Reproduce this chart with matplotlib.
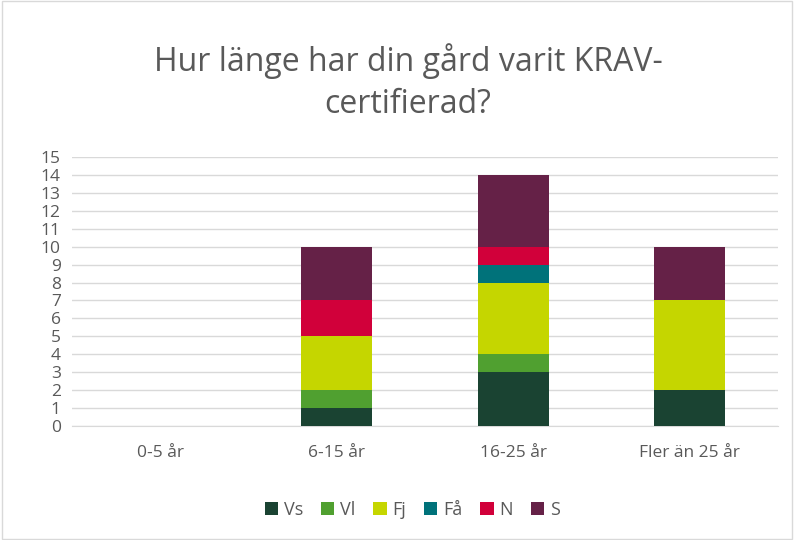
import numpy as np
import matplotlib
matplotlib.use('Agg')
import matplotlib.pyplot as plt
from matplotlib.patches import Rectangle

categories = ['0-5 år', '6-15 år', '16-25 år', 'Fler än 25 år']
series = ['Vs', 'Vl', 'Fj', 'Få', 'N', 'S']
vs = [0, 1, 3, 2]
vl = [0, 1, 1, 0]
fj = [0, 3, 4, 5]
fa = [0, 0, 1, 0]
n = [0, 2, 1, 0]
s = [0, 3, 4, 3]
colors = ['#1A4332', '#50A030', '#C5D600', '#00727A', '#D1003A', '#652147']

plt.rcParams['font.family'] = ['Open Sans', 'DejaVu Sans']
fig = plt.figure(figsize=(7.94, 5.40), dpi=100)
ax = fig.add_axes([72 / 794, 1 - 426 / 540, 706 / 794, 269 / 540])

x = np.arange(len(categories))
bottom = np.zeros(len(categories))
for name, vals, c in zip(series, [vs, vl, fj, fa, n, s], colors):
    ax.bar(x, vals, 0.4, bottom=bottom, color=c, label=name, zorder=3)
    bottom += np.array(vals)

ax.set_xlim(-0.5, 3.5)
ax.set_ylim(0, 15)
ax.set_yticks(range(0, 16))
ax.set_xticks(x)
ax.set_xticklabels(categories)
ax.grid(axis='y', color='#D9D9D9', linewidth=1, zorder=0)
for sp in ax.spines.values():
    sp.set_visible(False)
ax.spines['bottom'].set_visible(True)
ax.spines['bottom'].set_color('#D9D9D9')
ax.tick_params(length=0, colors='#595959', labelsize=12.5)
ax.tick_params(axis='y', pad=8)
ax.tick_params(axis='x', pad=14)

fig.text(408 / 794, 1 - 82 / 540, 'Hur länge har din gård varit KRAV-\ncertifierad?',
         ha='center', va='center', fontsize=23, color='#595959', linespacing=1.35)

fig.legend(loc='center', bbox_to_anchor=(412 / 794, 1 - 510 / 540), ncol=6, frameon=False,
           fontsize=13, handlelength=0.75, handleheight=0.75, columnspacing=1.0,
           handletextpad=0.3, labelcolor='#595959')

fig.patches.append(Rectangle((0.002, 0.002), 0.996, 0.996, transform=fig.transFigure,
                             fill=False, edgecolor='#D9D9D9', linewidth=1))

fig.savefig('out.png', dpi=100)
